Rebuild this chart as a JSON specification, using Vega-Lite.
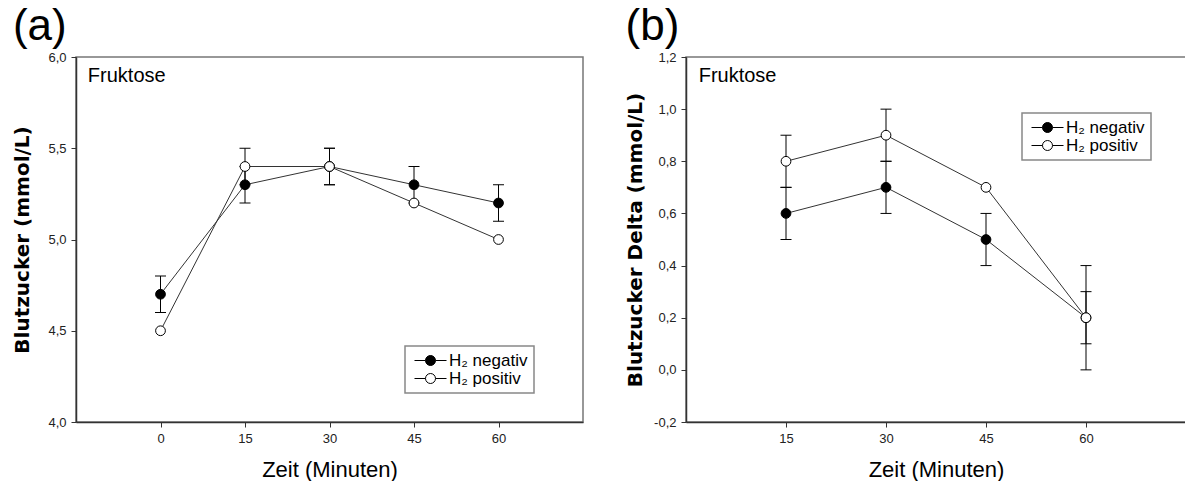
{
  "$schema": "https://vega.github.io/schema/vega-lite/v6.json",
  "padding": {"left": 12, "top": 4, "right": 0, "bottom": 0},
  "background": "white",
  "datasets": {
    "a": [
      {"t": 0, "g": "H₂ negativ", "y": 4.7, "lo": 4.6, "hi": 4.8},
      {"t": 15, "g": "H₂ negativ", "y": 5.3, "lo": 5.2, "hi": 5.4},
      {"t": 30, "g": "H₂ negativ", "y": 5.4, "lo": 5.3, "hi": 5.5},
      {"t": 45, "g": "H₂ negativ", "y": 5.3, "lo": 5.2, "hi": 5.4},
      {"t": 60, "g": "H₂ negativ", "y": 5.2, "lo": 5.1, "hi": 5.3},
      {"t": 0, "g": "H₂ positiv", "y": 4.5, "lo": null, "hi": null},
      {"t": 15, "g": "H₂ positiv", "y": 5.4, "lo": 5.3, "hi": 5.5},
      {"t": 30, "g": "H₂ positiv", "y": 5.4, "lo": 5.3, "hi": 5.5},
      {"t": 45, "g": "H₂ positiv", "y": 5.2, "lo": null, "hi": null},
      {"t": 60, "g": "H₂ positiv", "y": 5.0, "lo": null, "hi": null}
    ],
    "b": [
      {"t": 15, "g": "H₂ negativ", "y": 0.6, "lo": 0.5, "hi": 0.7},
      {"t": 30, "g": "H₂ negativ", "y": 0.7, "lo": 0.6, "hi": 0.8},
      {"t": 45, "g": "H₂ negativ", "y": 0.5, "lo": 0.4, "hi": 0.6},
      {"t": 60, "g": "H₂ negativ", "y": 0.2, "lo": 0.1, "hi": 0.3},
      {"t": 15, "g": "H₂ positiv", "y": 0.8, "lo": 0.7, "hi": 0.9},
      {"t": 30, "g": "H₂ positiv", "y": 0.9, "lo": 0.8, "hi": 1.0},
      {"t": 45, "g": "H₂ positiv", "y": 0.7, "lo": null, "hi": null},
      {"t": 60, "g": "H₂ positiv", "y": 0.2, "lo": 0.0, "hi": 0.4}
    ]
  },
  "spacing": 40,
  "resolve": {
    "scale": {"x": "independent", "y": "independent", "fill": "independent"},
    "legend": {"fill": "independent"},
    "axis": {"x": "independent", "y": "independent"}
  },
  "hconcat": [
    {
      "width": 507,
      "height": 365,
      "title": {"text": "(a)"},
      "layer": [
        {
          "data": {"name": "a"},
          "transform": [{"filter": "isValid(datum.lo)"}],
          "mark": {"type": "rule", "color": "black", "strokeWidth": 1},
          "encoding": {
            "x": {"field": "t", "type": "quantitative"},
            "y": {"field": "lo", "type": "quantitative"},
            "y2": {"field": "hi"}
          }
        },
        {
          "data": {"name": "a"},
          "transform": [{"filter": "isValid(datum.lo)"}],
          "mark": {"type": "tick", "orient": "horizontal", "size": 11, "thickness": 1, "color": "black", "opacity": 1},
          "encoding": {
            "x": {"field": "t", "type": "quantitative"},
            "y": {"field": "lo", "type": "quantitative"}
          }
        },
        {
          "data": {"name": "a"},
          "transform": [{"filter": "isValid(datum.hi)"}],
          "mark": {"type": "tick", "orient": "horizontal", "size": 11, "thickness": 1, "color": "black", "opacity": 1},
          "encoding": {
            "x": {"field": "t", "type": "quantitative"},
            "y": {"field": "hi", "type": "quantitative"}
          }
        },
        {
          "data": {"name": "a"},
          "mark": {"type": "line", "color": "#333", "strokeWidth": 1},
          "encoding": {
            "x": {"field": "t", "type": "quantitative"},
            "y": {"field": "y", "type": "quantitative"},
            "detail": {"field": "g"}
          }
        },
        {
          "data": {"name": "a"},
          "mark": {"type": "point", "filled": true, "size": 95, "stroke": "black", "strokeWidth": 1, "opacity": 1},
          "encoding": {
            "x": {
              "field": "t", "type": "quantitative",
              "scale": {"domain": [-15, 75], "nice": false, "zero": false},
              "axis": {"values": [0, 15, 30, 45, 60], "title": "Zeit (Minuten)"}
            },
            "y": {
              "field": "y", "type": "quantitative",
              "scale": {"domain": [4, 6], "nice": false, "zero": false},
              "axis": {
                "values": [4, 4.5, 5, 5.5, 6],
                "labelExpr": "replace(replace(format(datum.value, '.1f'), '.', ','), '−', '-')",
                "title": "Blutzucker (mmol/L)",
                "titlePadding": 15
              }
            },
            "fill": {
              "field": "g", "type": "nominal",
              "scale": {"domain": ["H₂ negativ", "H₂ positiv"], "range": ["black", "white"]},
              "legend": {"orient": "none", "legendX": 329, "legendY": 289, "title": null}
            }
          }
        },
        {
          "data": {"values": [{"label": "Fruktose"}]},
          "mark": {"type": "text", "align": "left", "baseline": "alphabetic", "fontSize": 20, "font": "Liberation Sans", "color": "black"},
          "encoding": {
            "x": {"datum": -12.9, "type": "quantitative"},
            "y": {"datum": 5.863, "type": "quantitative"},
            "text": {"field": "label", "type": "nominal"}
          }
        }
      ]
    },
    {
      "width": 500,
      "height": 365,
      "title": {"text": "(b)"},
      "layer": [
        {
          "data": {"name": "b"},
          "transform": [{"filter": "isValid(datum.lo)"}],
          "mark": {"type": "rule", "color": "black", "strokeWidth": 1},
          "encoding": {
            "x": {"field": "t", "type": "quantitative"},
            "y": {"field": "lo", "type": "quantitative"},
            "y2": {"field": "hi"}
          }
        },
        {
          "data": {"name": "b"},
          "transform": [{"filter": "isValid(datum.lo)"}],
          "mark": {"type": "tick", "orient": "horizontal", "size": 11, "thickness": 1, "color": "black", "opacity": 1},
          "encoding": {
            "x": {"field": "t", "type": "quantitative"},
            "y": {"field": "lo", "type": "quantitative"}
          }
        },
        {
          "data": {"name": "b"},
          "transform": [{"filter": "isValid(datum.hi)"}],
          "mark": {"type": "tick", "orient": "horizontal", "size": 11, "thickness": 1, "color": "black", "opacity": 1},
          "encoding": {
            "x": {"field": "t", "type": "quantitative"},
            "y": {"field": "hi", "type": "quantitative"}
          }
        },
        {
          "data": {"name": "b"},
          "mark": {"type": "line", "color": "#333", "strokeWidth": 1},
          "encoding": {
            "x": {"field": "t", "type": "quantitative"},
            "y": {"field": "y", "type": "quantitative"},
            "detail": {"field": "g"}
          }
        },
        {
          "data": {"name": "b"},
          "mark": {"type": "point", "filled": true, "size": 95, "stroke": "black", "strokeWidth": 1, "opacity": 1},
          "encoding": {
            "x": {
              "field": "t", "type": "quantitative",
              "scale": {"domain": [0, 75], "nice": false, "zero": false},
              "axis": {"values": [15, 30, 45, 60], "title": "Zeit (Minuten)"}
            },
            "y": {
              "field": "y", "type": "quantitative",
              "scale": {"domain": [-0.2, 1.2], "nice": false, "zero": false},
              "axis": {
                "values": [-0.2, 0, 0.2, 0.4, 0.6, 0.8, 1.0, 1.2],
                "labelExpr": "replace(replace(format(datum.value, '.1f'), '.', ','), '−', '-')",
                "title": "Blutzucker Delta (mmol/L)",
                "titlePadding": 8
              }
            },
            "fill": {
              "field": "g", "type": "nominal",
              "scale": {"domain": ["H₂ negativ", "H₂ positiv"], "range": ["black", "white"]},
              "legend": {"orient": "none", "legendX": 336, "legendY": 56, "title": null}
            }
          }
        },
        {
          "data": {"values": [{"label": "Fruktose"}]},
          "mark": {"type": "text", "align": "left", "baseline": "alphabetic", "fontSize": 20, "font": "Liberation Sans", "color": "black"},
          "encoding": {
            "x": {"datum": 1.9, "type": "quantitative"},
            "y": {"datum": 1.104, "type": "quantitative"},
            "text": {"field": "label", "type": "nominal"}
          }
        }
      ]
    }
  ],
  "config": {
    "font": "Liberation Sans",
    "view": {"stroke": "#777", "strokeWidth": 1.5},
    "title": {"anchor": "start", "frame": "bounds", "fontSize": 44, "fontWeight": "normal", "font": "Liberation Sans", "color": "black", "offset": 2},
    "axis": {
      "grid": false,
      "domainColor": "#333",
      "domainWidth": 1.5,
      "tickColor": "#333",
      "tickSize": 5,
      "tickWidth": 1,
      "labelFont": "Liberation Sans",
      "labelFontSize": 13,
      "labelColor": "#222",
      "labelPadding": 5,
      "titleColor": "black"
    },
    "axisX": {"titleFont": "Liberation Sans", "titleFontSize": 22, "titleFontWeight": "normal", "titlePadding": 14},
    "axisY": {"titleFont": "DejaVu Sans", "titleFontSize": 20, "titleFontWeight": "bold"},
    "legend": {
      "strokeColor": "#888",
      "strokeWidth": 1.5,
      "fillColor": "white",
      "padding": 6,
      "labelFont": "Liberation Sans",
      "labelFontSize": 17,
      "labelColor": "black",
      "labelOffset": 10,
      "rowPadding": 0,
      "symbolType": "M-3.2,0H-1M1,0H3.2M1,0A1,1,0,1,1,-1,0A1,1,0,1,1,1,0Z",
      "symbolSize": 100,
      "symbolOffset": 11,
      "symbolStrokeColor": "black",
      "symbolStrokeWidth": 1,
      "symbolOpacity": 1
    }
  }
}
